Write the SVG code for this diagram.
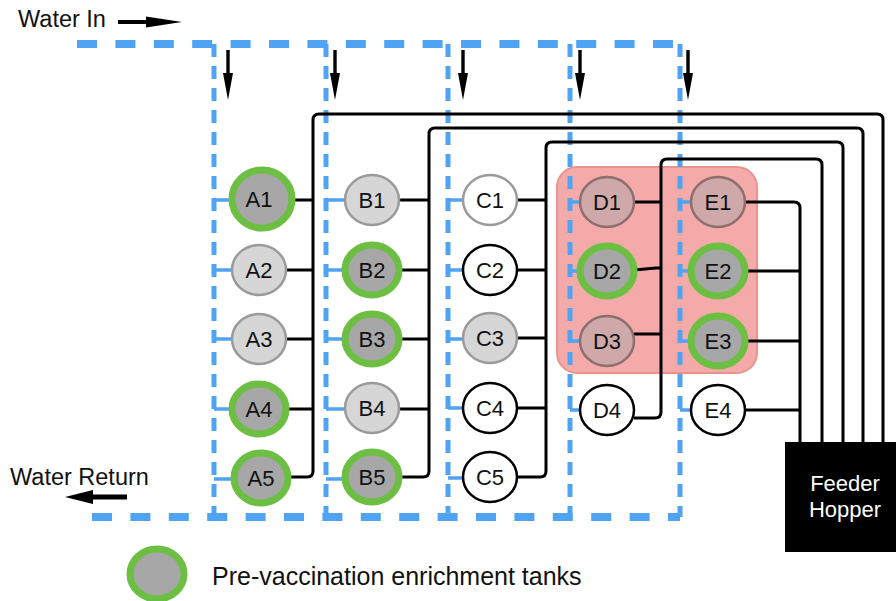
<svg xmlns="http://www.w3.org/2000/svg" width="896" height="601" viewBox="0 0 896 601">
<style>
.lbl{font-family:"Liberation Sans",Arial,sans-serif;font-size:22px;fill:#111;text-anchor:middle}
.txt{font-family:"Liberation Sans",Arial,sans-serif;font-size:23.5px;fill:#111}
.hop{font-family:"Liberation Sans",Arial,sans-serif;font-size:22px;fill:#fff;text-anchor:middle}
.green{fill:#a7a7a7;stroke:#6cbf42;stroke-width:7}
.light{fill:#d6d6d6;stroke:#9a9a9a;stroke-width:2.5}
.white{fill:#fff;stroke:#000;stroke-width:2.5}
.whiteg{fill:#fff;stroke:#9a9a9a;stroke-width:2.5}
.pink{fill:#cfa9a9;stroke:#8d6d6d;stroke-width:2.5}
.wh{fill:none;stroke:#4fa3f2;stroke-width:8;stroke-dasharray:20 18.4}
.wv{fill:none;stroke:#4fa3f2;stroke-width:5;stroke-dasharray:13 9}
.stub{fill:none;stroke:#4fa3f2;stroke-width:3.5}
.feed{fill:none;stroke:#000;stroke-width:3;stroke-linejoin:round}
.arr{fill:#000}
</style>
<rect id="dose-zone" x="557" y="167" width="200" height="206" rx="20" fill="#f4aaa8" stroke="#e8948c" stroke-width="2"/>
<g id="water-lines">
<path class="wh" d="M77 44 H680"/>
<path class="wh" d="M92 517 H680"/>
<path class="wv" d="M214 44 V517"/>
<path class="wv" d="M326 44 V517"/>
<path class="wv" d="M448 44 V517"/>
<path class="wv" d="M570 44 V517"/>
<path class="wv" d="M680 44 V517"/>
<path class="stub" d="M214 200 H232 M214 270 H232 M214 339 H232 M214 409 H232 M214 479 H232"/>
<path class="stub" d="M326 200 H345 M326 270 H345 M326 339 H345 M326 409 H345 M326 479 H345"/>
<path class="stub" d="M448 200 H463 M448 270 H463 M448 339 H463 M448 408 H463 M448 478 H463"/>
<path class="stub" d="M570 202 H580 M570 271 H580 M570 341 H580 M570 410 H580"/>
<path class="stub" d="M680 202 H691 M680 271 H691 M680 341 H691 M680 410 H691"/>
</g>
<g id="connectors">
<path class="feed" d="M286 200 H313 M286 270 H313 M286 339 H313 M286 409 H313"/>
<path class="feed" d="M289 477 H307 Q313 477 313 471 V120 Q313 114 319 114 H877 Q883 114 883 120 V442"/>
<path class="feed" d="M399 200 H429 M399 270 H429 M399 339 H429 M399 409 H429"/>
<path class="feed" d="M399 477 H423 Q429 477 429 471 V134 Q429 128 435 128 H857 Q863 128 863 134 V442"/>
<path class="feed" d="M517 200 H546 M517 270 H546 M517 338 H546 M517 408 H546"/>
<path class="feed" d="M517 477 H540 Q546 477 546 471 V148 Q546 142 552 142 H837 Q843 142 843 148 V442"/>
<path class="feed" d="M634 202 H661 M634 270 L656 268 H661 M634 334 H661"/>
<path class="feed" d="M634 418 H655 Q661 418 661 412 V165 Q661 159 667 159 H816 Q822 159 822 165 V442"/>
<path class="feed" d="M745 271 H800 M745 341 H800 M745 410 H800"/>
<path class="feed" d="M745 202 H794 Q800 202 800 208 V442"/>
</g>
<g id="arrows">
<path class="arr" d="M118 20 H146 V16.5 L182 22 L146 27.5 V24 H118 Z"/>
<path class="arr" d="M127 494.5 H93 V490 L65 497 L93 504 V499.5 H127 Z"/>
<path class="arr" d="M226.3 50 H229.7 V73 H233 L228 100 L223 73 H226.3 Z"/>
<path class="arr" d="M333.3 50 H336.7 V73 H340 L335 100 L330 73 H333.3 Z"/>
<path class="arr" d="M461.3 50 H464.7 V73 H468 L463 100 L458 73 H461.3 Z"/>
<path class="arr" d="M578.3 50 H581.7 V73 H585 L580 100 L575 73 H578.3 Z"/>
<path class="arr" d="M686.3 50 H689.7 V73 H693 L688 100 L683 73 H686.3 Z"/>
</g>
<g id="A1"><ellipse class="green" cx="262" cy="199" rx="30" ry="29"/><text class="lbl" x="259" y="207">A1</text></g>
<g id="A2"><ellipse class="light" cx="259" cy="270" rx="27" ry="25"/><text class="lbl" x="259" y="278">A2</text></g>
<g id="A3"><ellipse class="light" cx="259" cy="339" rx="27" ry="25"/><text class="lbl" x="259" y="347">A3</text></g>
<g id="A4"><ellipse class="green" cx="259" cy="409" rx="27" ry="25"/><text class="lbl" x="259" y="417">A4</text></g>
<g id="A5"><ellipse class="green" cx="261" cy="478" rx="27" ry="25"/><text class="lbl" x="261" y="486">A5</text></g>
<g id="B1"><ellipse class="light" cx="372" cy="200" rx="27" ry="25"/><text class="lbl" x="372" y="208">B1</text></g>
<g id="B2"><ellipse class="green" cx="372" cy="270" rx="27" ry="25"/><text class="lbl" x="372" y="278">B2</text></g>
<g id="B3"><ellipse class="green" cx="372" cy="339" rx="27" ry="25"/><text class="lbl" x="372" y="347">B3</text></g>
<g id="B4"><ellipse class="light" cx="372" cy="408" rx="27" ry="25"/><text class="lbl" x="372" y="416">B4</text></g>
<g id="B5"><ellipse class="green" cx="372" cy="477" rx="27" ry="25"/><text class="lbl" x="372" y="485">B5</text></g>
<g id="C1"><ellipse class="whiteg" cx="490" cy="200" rx="27" ry="25"/><text class="lbl" x="490" y="208">C1</text></g>
<g id="C2"><ellipse class="white" cx="490" cy="270" rx="27" ry="25"/><text class="lbl" x="490" y="278">C2</text></g>
<g id="C3"><ellipse class="light" cx="490" cy="338" rx="27" ry="25"/><text class="lbl" x="490" y="346">C3</text></g>
<g id="C4"><ellipse class="white" cx="490" cy="408" rx="27" ry="25"/><text class="lbl" x="490" y="416">C4</text></g>
<g id="C5"><ellipse class="white" cx="490" cy="477" rx="27" ry="25"/><text class="lbl" x="490" y="485">C5</text></g>
<g id="D1"><ellipse class="pink" cx="607" cy="202" rx="27" ry="25"/><text class="lbl" x="607" y="210">D1</text></g>
<g id="D2"><ellipse class="green" cx="607" cy="271" rx="27" ry="25"/><text class="lbl" x="607" y="279">D2</text></g>
<g id="D3"><ellipse class="pink" cx="607" cy="341" rx="27" ry="25"/><text class="lbl" x="607" y="349">D3</text></g>
<g id="D4"><ellipse class="white" cx="607" cy="410" rx="27" ry="25"/><text class="lbl" x="607" y="418">D4</text></g>
<g id="E1"><ellipse class="pink" cx="718" cy="202" rx="27" ry="25"/><text class="lbl" x="718" y="210">E1</text></g>
<g id="E2"><ellipse class="green" cx="718" cy="271" rx="27" ry="25"/><text class="lbl" x="718" y="279">E2</text></g>
<g id="E3"><ellipse class="green" cx="718" cy="341" rx="27" ry="25"/><text class="lbl" x="718" y="349">E3</text></g>
<g id="E4"><ellipse class="white" cx="718" cy="410" rx="27" ry="25"/><text class="lbl" x="718" y="418">E4</text></g>
<g id="hopper"><rect x="785" y="442" width="125" height="110" fill="#000"/><text class="hop" x="845" y="491">Feeder</text><text class="hop" x="845" y="517">Hopper</text></g>
<g id="labels">
<text class="txt" x="18" y="27">Water In</text>
<text class="txt" x="10" y="485">Water Return</text>
</g>
<g id="legend"><ellipse class="green" cx="157" cy="574" rx="27" ry="25"/><text class="txt" x="212" y="585" style="font-size:25px">Pre-vaccination enrichment tanks</text></g>
</svg>
